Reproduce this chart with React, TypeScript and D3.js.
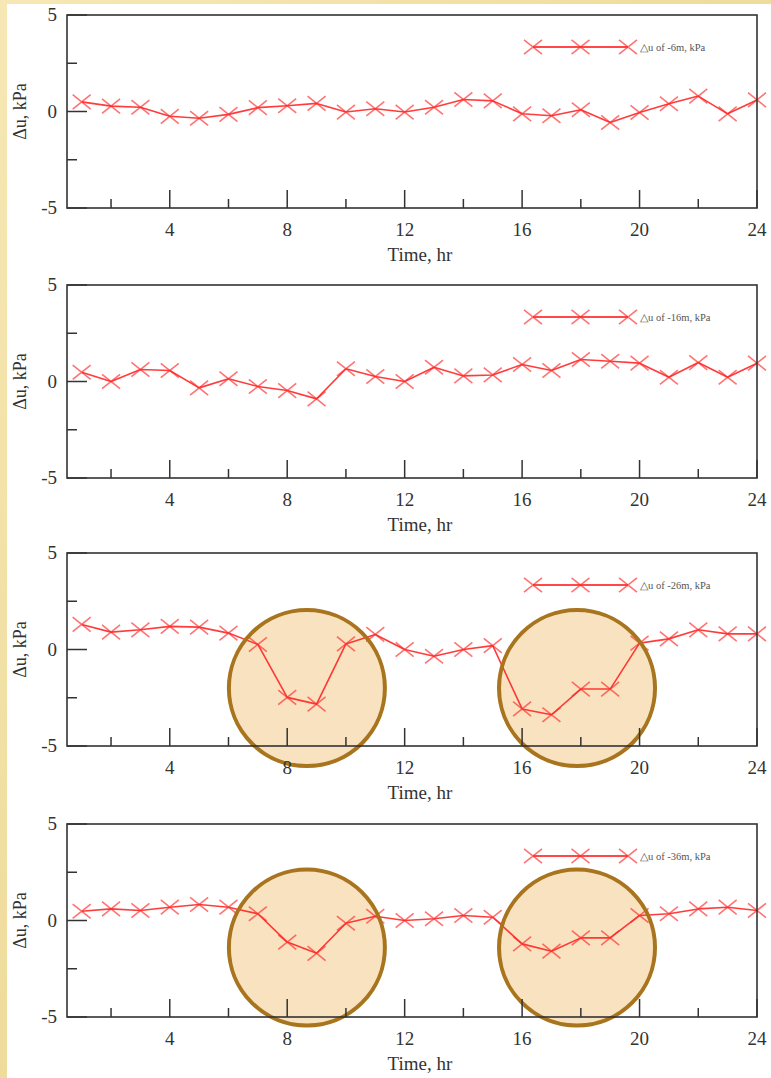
import React from "react";
import * as d3 from "d3";

const hours = d3.range(1, 25);
const depthLabels = ["-6m", "-16m", "-26m", "-36m"];
const s6 = [0.5, 0.28, 0.22, -0.25, -0.35, -0.15, 0.2, 0.3, 0.42, -0.03, 0.14, -0.03, 0.22, 0.62, 0.55, -0.12, -0.22, 0.09, -0.57, -0.05, 0.4, 0.8, -0.12, 0.6];
const s16 = [0.48, 0, 0.62, 0.57, -0.33, 0.14, -0.26, -0.47, -0.9, 0.66, 0.26, 0.0, 0.74, 0.29, 0.34, 0.88, 0.57, 1.14, 1.05, 0.95, 0.22, 0.98, 0.22, 0.95];
const s26 = [1.3, 0.9, 1.02, 1.2, 1.16, 0.85, 0.26, -2.48, -2.83, 0.29, 0.78, 0, -0.35, 0, 0.2, -3.08, -3.38, -2.05, -2.05, 0.33, 0.55, 1.02, 0.81, 0.81];
const s36 = [0.48, 0.6, 0.52, 0.69, 0.83, 0.69, 0.35, -1.12, -1.7, -0.14, 0.22, 0, 0.09, 0.26, 0.17, -1.21, -1.59, -0.9, -0.9, 0.26, 0.35, 0.6, 0.69, 0.52];
const seriesList = [s6, s16, s26, s36];
// highlight circles: [panel index, center hour, center value]
const highlights: [number, number, number][] = [
  [2, 8.67, -2.0],
  [2, 17.87, -2.0],
  [3, 8.67, -1.4],
  [3, 17.87, -1.4],
];
const xMajor = [4, 8, 12, 16, 20, 24];
const xMinor = [2, 6, 10, 14, 18, 22];
const yMajor = [-5, 0, 5];
const yMinor = [-2.5, 2.5];

const W = 771;
const H = 1078;
const left = 67;
const right = 757;
const panelTops = [15, 285, 553, 824];
const panelH = 193;
const font = "'Liberation Serif', 'Times New Roman', serif";
const red = "#ff1a1a";

function Marker({ x, y, r }: { x: number; y: number; r: number }) {
  return (
    <path
      d={`M${x - r},${y - r * 0.8}L${x + r},${y + r * 0.8}M${x - r},${y + r * 0.8}L${x + r},${y - r * 0.8}`}
      stroke="rgba(255,40,40,0.65)"
      strokeWidth={1.6}
      fill="none"
    />
  );
}

function Panel({ idx }: { idx: number }) {
  const top = panelTops[idx];
  const bottom = top + panelH;
  const x = d3.scaleLinear().domain([0.5, 24]).range([left, right]);
  const y = d3.scaleLinear().domain([-5, 5]).range([bottom, top]);
  const data = seriesList[idx];
  const line = d3
    .line<number>()
    .x((_, i) => x(hours[i]))
    .y((d) => y(d))
    .curve(d3.curveLinear);
  const circles = highlights.filter((h) => h[0] === idx);
  const legY = top + 32;
  const legX = [533, 580.5, 628];
  return (
    <g>
      <rect x={left} y={top} width={right - left} height={panelH} fill="#fff" />
      {circles.map((c, i) => (
        <circle
          key={"c" + i}
          cx={x(c[1])}
          cy={y(c[2])}
          r={78}
          fill="rgba(239,185,105,0.42)"
        />
      ))}
      <path d={line(data) || ""} fill="none" stroke={red} strokeWidth={1.6} strokeOpacity={0.85} strokeLinejoin="round" />
      {data.map((d, i) => (
        <Marker key={i} x={x(hours[i])} y={y(d)} r={9} />
      ))}
      {circles.map((c, i) => (
        <circle
          key={"s" + i}
          cx={x(c[1])}
          cy={y(c[2])}
          r={78}
          fill="none"
          stroke="#a8741e"
          strokeWidth={4}
        />
      ))}
      {/* frame */}
      <rect x={left} y={top} width={right - left} height={panelH} fill="none" stroke="#333" strokeWidth={1.6} />
      {xMajor.map((t) => (
        <line key={"xM" + t} x1={x(t)} x2={x(t)} y1={bottom} y2={bottom - 18} stroke="#333" strokeWidth={1.5} />
      ))}
      {xMinor.map((t) => (
        <line key={"xm" + t} x1={x(t)} x2={x(t)} y1={bottom} y2={bottom - 9} stroke="#333" strokeWidth={1.5} />
      ))}
      {yMajor.map((t) => (
        <line key={"yM" + t} x1={left} x2={left + 20} y1={y(t)} y2={y(t)} stroke="#333" strokeWidth={1.5} />
      ))}
      {yMinor.map((t) => (
        <line key={"ym" + t} x1={left} x2={left + 10} y1={y(t)} y2={y(t)} stroke="#333" strokeWidth={1.5} />
      ))}
      {xMajor.map((t) => (
        <text
          key={"xl" + t}
          x={x(t)}
          y={bottom + 28}
          textAnchor="middle"
          fontFamily={font}
          fontSize={19}
          fill="#333"
        >
          {t}
        </text>
      ))}
      {yMajor.map((t) => (
        <text
          key={"yl" + t}
          x={left - 10}
          y={y(t) + 6}
          textAnchor="end"
          fontFamily={font}
          fontSize={19}
          fill="#333"
        >
          {t}
        </text>
      ))}
      <text x={420} y={bottom + 53} textAnchor="middle" fontFamily={font} fontSize={19} fill="#333">
        Time, hr
      </text>
      <text
        transform={`translate(26,${(top + bottom) / 2}) rotate(-90)`}
        textAnchor="middle"
        fontFamily={font}
        fontSize={18}
        fill="#333"
      >
        Δu, kPa
      </text>
      {/* legend */}
      <line x1={legX[0]} x2={legX[2]} y1={legY} y2={legY} stroke={red} strokeWidth={2} strokeOpacity={0.8} />
      {legX.map((lx, i) => (
        <Marker key={"lg" + i} x={lx} y={legY} r={9} />
      ))}
      <text x={640} y={legY + 3.5} fontFamily={font} fontSize={10.5} fill="#555">
        {`△u of ${depthLabels[idx]}, kPa`}
      </text>
    </g>
  );
}

export default function App() {
  return (
    <svg
      width={W}
      height={H}
      style={{ position: "absolute", left: 0, top: 0, display: "block" }}
    >
      <defs>
        <linearGradient id="gold" x1="0" y1="0" x2="1" y2="1">
          <stop offset="0" stopColor="#f6e7b4" />
          <stop offset="0.5" stopColor="#efdc9c" />
          <stop offset="1" stopColor="#f5e6b2" />
        </linearGradient>
      </defs>
      <rect x={0} y={0} width={W} height={H} fill="url(#gold)" />
      <rect x={7} y={4} width={W - 7} height={H - 4} fill="#fff" />
      {[0, 1, 2, 3].map((i) => (
        <Panel key={i} idx={i} />
      ))}
    </svg>
  );
}
